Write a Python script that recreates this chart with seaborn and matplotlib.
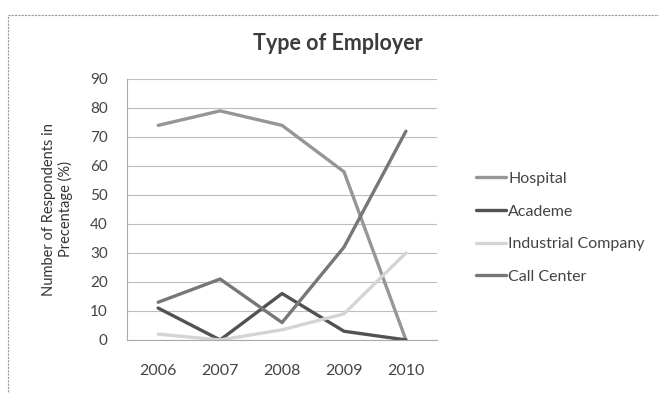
import matplotlib
matplotlib.use("Agg")
import matplotlib.pyplot as plt
import seaborn as sns
import pandas as pd
from matplotlib.patches import Rectangle

years = ["2006", "2007", "2008", "2009", "2010"]
hospital = [74, 79, 74, 58, 0]
academe = [11, 0, 16, 3, 0]
industrial = [2, 0, 3.5, 9, 30]
call_center = [13, 21, 6, 32, 72]
series_names = ["Hospital", "Academe", "Industrial Company", "Call Center"]
yticks = [0, 10, 20, 30, 40, 50, 60, 70, 80, 90]

rows = []
for name, vals in zip(series_names, [hospital, academe, industrial, call_center]):
    for i, (yr, v) in enumerate(zip(years, vals)):
        rows.append({"pos": i, "Year": yr, "Value": v, "Series": name})
df = pd.DataFrame(rows)

sns.set_theme(style="white")
plt.rcParams["font.family"] = ["Lato", "DejaVu Sans"]

fig = plt.figure(figsize=(6.59, 3.93), dpi=100)
ax = fig.add_axes([0.193, 0.135, 0.47, 0.664])

palette = {"Hospital": "#969696", "Academe": "#525252",
           "Industrial Company": "#d4d4d4", "Call Center": "#777777"}
sns.lineplot(data=df, x="pos", y="Value", hue="Series", hue_order=series_names,
             palette=palette, linewidth=2.4, ax=ax, legend=True)

ax.set_xlim(-0.5, 4.5)
ax.set_ylim(0, 90)
ax.set_yticks(yticks)
ax.set_yticklabels([str(t) for t in yticks], fontsize=11, color="#444444")
ax.set_xticks(range(len(years)))
ax.set_xticklabels(years, fontsize=11.5, color="#444444")
ax.tick_params(axis="x", length=0, pad=17)
ax.tick_params(axis="y", length=0, pad=14)
ax.set_xlabel("")
ax.set_ylabel("Number of Respondents in\nPrecentage (%)", fontsize=10.5, color="#333333", labelpad=12)
ax.yaxis.grid(True, color="#bdbdbd", linewidth=0.8)
for s in ["top", "right"]:
    ax.spines[s].set_visible(False)
ax.spines["left"].set_color("#aaaaaa")
ax.spines["left"].set_linestyle((0, (2, 1)))
ax.spines["bottom"].set_color("#aaaaaa")
ax.spines["left"].set_linewidth(0.8)
ax.spines["bottom"].set_linewidth(0.8)

fig.text(338 / 659, 1 - 43 / 393, "Type of Employer", fontsize=15.5, fontweight="bold",
         color="#3c3c3c", ha="center", va="center")

handles, labels = ax.get_legend_handles_labels()
leg = ax.legend(handles, labels, loc="center left", bbox_to_anchor=(1.08, 0.43),
                frameon=False, fontsize=11.5, handlelength=1.9, handletextpad=0.1,
                labelspacing=1.15)
for t in leg.get_texts():
    t.set_color("#444444")

fig.patches.append(Rectangle((8 / 659, -0.1), 1.2, (393 - 15) / 393 + 0.1,
                             transform=fig.transFigure, fill=False,
                             edgecolor="#999999", linewidth=0.8,
                             linestyle=(0, (2, 1))))

fig.savefig("out.png", dpi=100)
